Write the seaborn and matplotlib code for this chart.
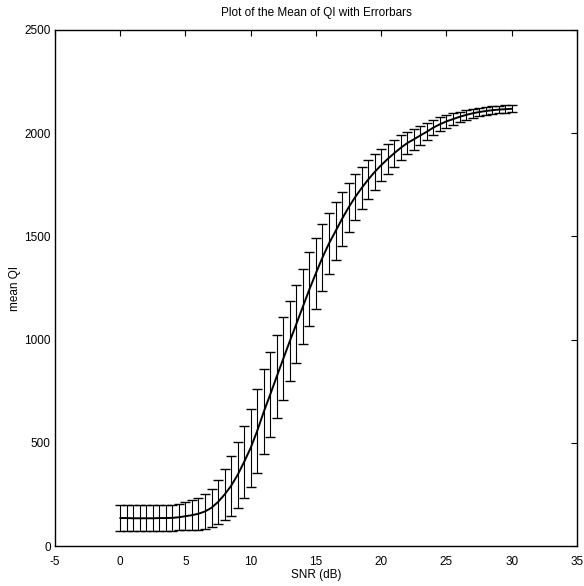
import numpy as np
import pandas as pd
import matplotlib
matplotlib.use("Agg")
import matplotlib.pyplot as plt
import seaborn as sns

# Data (SNR in dB, mean QI and error half-widths)
snr = [0, 0.5, 1, 1.5, 2, 2.5, 3, 3.5, 4, 4.5,
       5, 5.5, 6, 6.5, 7, 7.5, 8, 8.5, 9, 9.5,
       10, 10.5, 11, 11.5, 12, 12.5, 13, 13.5, 14, 14.5,
       15, 15.5, 16, 16.5, 17, 17.5, 18, 18.5, 19, 19.5,
       20, 20.5, 21, 21.5, 22, 22.5, 23, 23.5, 24, 24.5,
       25, 25.5, 26, 26.5, 27, 27.5, 28, 28.5, 29, 29.5, 30]

mean_qi = [136, 136, 135, 135, 135, 135, 136, 136, 137, 140,
           145, 150, 157, 168, 186, 214, 250, 292, 345, 408,
           476, 558, 650, 735, 822, 908, 993, 1076, 1160, 1244,
           1322, 1398, 1466, 1525, 1585, 1640, 1690, 1734, 1775, 1812,
           1845, 1875, 1903, 1929, 1952, 1970, 1989, 2007, 2027, 2043,
           2057, 2068, 2079, 2088, 2096, 2102, 2107, 2111, 2114, 2116, 2118]

err_qi = [62, 62, 62, 62, 62, 62, 62, 62, 62, 63,
          67, 72, 77, 83, 92, 108, 125, 145, 158, 173,
          190, 204, 206, 207, 202, 200, 194, 190, 180, 180,
          172, 162, 148, 140, 130, 118, 110, 101, 94, 87,
          79, 72, 66, 60, 54, 50, 46, 42, 38, 35,
          31, 28, 25, 23, 21, 20, 19, 18, 18, 18, 18]

x_ticks = [-5, 0, 5, 10, 15, 20, 25, 30, 35]
y_ticks = [0, 500, 1000, 1500, 2000, 2500]

df = pd.DataFrame({"snr": snr, "mean_qi": mean_qi, "err": err_qi})

sns.set_style("white")
plt.rcParams["font.family"] = ["Liberation Sans Narrow", "Liberation Sans", "DejaVu Sans"]
plt.rcParams["axes.unicode_minus"] = False
plt.rcParams["text.color"] = "black"
plt.rcParams["axes.labelcolor"] = "black"

fig = plt.figure(figsize=(5.84, 5.86), dpi=100)
ax = fig.add_axes([0.094, 0.068, 0.894, 0.881])

ax.errorbar(df["snr"], df["mean_qi"], yerr=df["err"], fmt="none",
            ecolor="black", elinewidth=0.8, capsize=3.6, capthick=1.0)
sns.lineplot(data=df, x="snr", y="mean_qi", color="black", linewidth=1.4, ax=ax)

ax.set_xlim(-5, 35)
ax.set_ylim(0, 2500)
ax.set_xticks(x_ticks)
ax.set_yticks(y_ticks)
ax.tick_params(direction="in", length=4, width=0.8, top=True, right=True,
               labelsize=8.5, colors="black")
ax.tick_params(axis="x", pad=7)
ax.tick_params(axis="y", pad=3)
for s in ax.spines.values():
    s.set_color("black")
    s.set_linewidth(1.0)

ax.set_title("Plot of the Mean of QI with Errorbars", fontsize=8.5, pad=10, color="black")
ax.set_xlabel("SNR (dB)", fontsize=8.5, labelpad=1)
ax.set_ylabel("mean QI", fontsize=8.5, labelpad=2)

fig.savefig("out.png", dpi=100)
